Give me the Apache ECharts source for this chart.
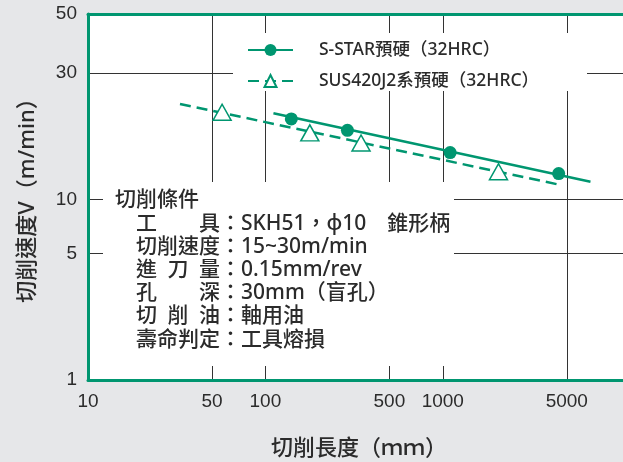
<!DOCTYPE html>
<html><head><meta charset="utf-8">
<script src="https://cdn.jsdelivr.net/npm/echarts@6/dist/echarts.min.js"></script>
<style>html,body{margin:0;padding:0;background:#e6e7e9;}#c{width:623px;height:462px;}</style>
</head><body><div id="c"></div>
<script>
// ---- data ----
const sStarName = 'S-STAR預硬（32HRC）';
const susName = 'SUS420J2系預硬（32HRC）';
const sStarLength = [140, 290, 1100, 4500];
const sStarSpeed = [20.1, 18.2, 15.0, 12.5];
const susLength = [57, 178, 346, 2060];
const susSpeed = [21.3, 17.8, 16.3, 12.7];
const sStarFitLength = [111, 6800];
const sStarFitSpeed = [21.1, 11.65];
const susFitLength = [33, 4400];
const susFitSpeed = [22.9, 11.4];
const xTickLabels = [10, 50, 100, 500, 1000, 5000];
const xGridValues = [50, 100, 500, 1000, 5000];
const yUpperLabels = [30, 50];
const yUpperGrid = [30];
const yLowerLabels = [1, 5, 10];
const yLowerGrid = [5, 10];
const xTitle = '切削長度（ｍｍ）';
const yTitle = '切削速度V（m/min）';
const conditionLines = [
  '切削條件',
  '　工　　具：SKH51，ϕ10　錐形柄',
  '　切削速度：15~30m/min',
  '　進\u2002刀\u2002量：0.15mm/rev',
  '　孔　　深：30mm（盲孔）',
  '　切\u2002削\u2002油：軸用油',
  '　壽命判定：工具熔損'
];

const pairs = (xs, ys) => xs.map((x, i) => [x, ys[i]]);
const GREEN = '#009670';
const GRID = '#333';
const TXT = '#2b2b2b';
const FONT = '"Noto Sans", "Noto Sans CJK TC", sans-serif';
const NUMFONT = '"Liberation Sans", Arial, sans-serif';

const chart = echarts.init(document.getElementById('c'), null, {renderer: 'canvas'});
const xCommon = {
  type: 'log', logBase: 10, min: 10, max: 100000,
  axisLine: {show: true, lineStyle: {color: GREEN, width: 3}},
  axisTick: {show: false, customValues: xGridValues},
  splitLine: {show: true, lineStyle: {color: GRID, width: 1}}
};
const yCommon = {
  type: 'log', logBase: 10,
  axisLine: {show: true, lineStyle: {color: GREEN, width: 3}},
  splitLine: {show: true, lineStyle: {color: GRID, width: 1}},
  axisLabel: {fontSize: 19, color: TXT, fontFamily: NUMFONT, margin: 11, formatter: v => String(v)}
};
chart.setOption({
  animation: false,
  backgroundColor: '#e6e7e9',
  grid: [
    {left: 88, top: 14, width: 709.6, height: 185.3, show: true, backgroundColor: '#fff', borderWidth: 0, containLabel: false, outerBoundsMode: 'none'},
    {left: 88, top: 199.3, width: 709.6, height: 180.7, show: true, backgroundColor: '#fff', borderWidth: 0, containLabel: false, outerBoundsMode: 'none'}
  ],
  xAxis: [
    Object.assign({}, xCommon, {gridIndex: 0, position: 'top', axisLabel: {show: false}}),
    Object.assign({}, xCommon, {gridIndex: 1, position: 'bottom',
      axisLabel: {show: true, customValues: xTickLabels, fontSize: 19, color: TXT, fontFamily: NUMFONT, margin: 12, formatter: v => String(v)}})
  ],
  yAxis: [
    Object.assign({}, yCommon, {gridIndex: 0, min: 10, max: 50,
      axisTick: {show: false, customValues: yUpperGrid},
      axisLabel: Object.assign({}, yCommon.axisLabel, {customValues: yUpperLabels})}),
    Object.assign({}, yCommon, {gridIndex: 1, min: 1, max: 10,
      axisTick: {show: false, customValues: yLowerGrid},
      axisLabel: Object.assign({}, yCommon.axisLabel, {customValues: yLowerLabels})})
  ],
  legend: {
    orient: 'vertical', left: 247, top: 41, padding: 0, itemGap: 13, itemWidth: 45, itemHeight: 15,
    data: [sStarName, susName], selectedMode: false,
    textStyle: {fontSize: 17.5, fontWeight: 500, color: TXT, fontFamily: FONT, lineHeight: 18, padding: [0, 0, 0, 21]}
  },
  series: [
    {name: sStarName, type: 'line', xAxisIndex: 0, yAxisIndex: 0, data: pairs(sStarFitLength, sStarFitSpeed),
     symbol: 'circle', showSymbol: false, silent: true, color: GREEN, lineStyle: {color: GREEN, width: 2.5, type: 'solid'}, z: 2},
    {name: susName, type: 'line', xAxisIndex: 0, yAxisIndex: 0, data: pairs(susFitLength, susFitSpeed),
     symbol: 'emptyTriangle', showSymbol: false, silent: true, color: GREEN, lineStyle: {color: GREEN, width: 2.5, type: [11, 6]}, z: 2},
    {name: sStarName, type: 'scatter', xAxisIndex: 0, yAxisIndex: 0, data: pairs(sStarLength, sStarSpeed),
     symbol: 'circle', symbolSize: 13, itemStyle: {color: GREEN, opacity: 1}, z: 3},
    {name: susName, type: 'scatter', xAxisIndex: 0, yAxisIndex: 0, data: pairs(susLength, susSpeed),
     symbol: 'triangle', symbolSize: [18, 16], itemStyle: {color: '#fff', borderColor: GREEN, borderWidth: 1.5, opacity: 1}, z: 3}
  ],
  graphic: [
    {type: 'rect', z: 1, silent: true, shape: {x: 233, y: 33, width: 354, height: 58}, style: {fill: '#fff'}},
    {type: 'rect', z: 1, silent: true, shape: {x: 103, y: 182, width: 351, height: 184}, style: {fill: '#fff'}},
    {type: 'text', z: 5, x: 115, y: 188.9, style: {text: conditionLines.join('\n'), font: '500 21px ' + FONT, lineHeight: 23.2, fill: TXT, verticalAlign: 'top', align: 'left'}},
    {type: 'text', z: 5, x: 359, y: 449, style: {text: xTitle, font: '500 22px ' + FONT, fill: TXT, align: 'center', verticalAlign: 'middle'}},
    {type: 'text', z: 5, x: 28, y: 195, rotation: Math.PI / 2, style: {text: yTitle, font: '500 22px ' + FONT, fill: TXT, align: 'center', verticalAlign: 'middle'}}
  ]
});
</script></body></html>
